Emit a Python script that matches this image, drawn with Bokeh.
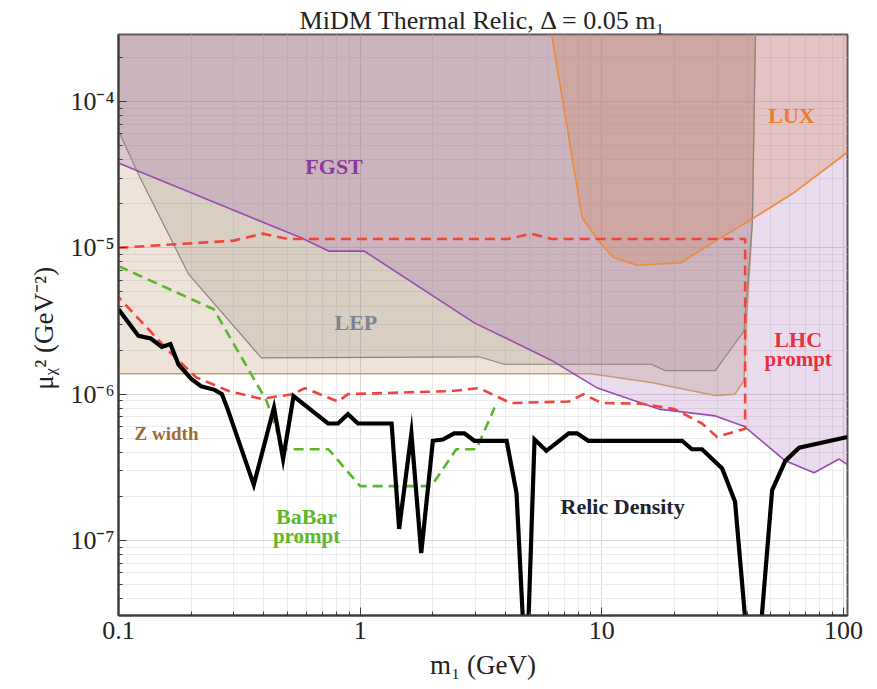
from bokeh.plotting import figure
from bokeh.models import FixedTicker, CustomJSTickFormatter, Label
from bokeh.embed import file_html
from bokeh.resources import INLINE

# ---------------- data ----------------
X_TICKS = [0.1, 1, 10, 100]
X_TICK_LABELS = ["0.1", "1", "10", "100"]
Y_TICKS = [1e-7, 1e-6, 1e-5, 1e-4]
Y_TICK_LABELS = ["10⁻⁷", "10⁻⁶", "10⁻⁵", "10⁻⁴"]

# Relic density curve (thick black)
relic_m = [0.1, 0.121, 0.136, 0.151, 0.164, 0.177, 0.2, 0.22, 0.25, 0.268, 0.283,
           0.363, 0.44, 0.48, 0.53, 0.736, 0.81, 0.89, 0.98, 1.35, 1.45, 1.63, 1.79,
           2.0, 2.2, 2.45, 2.7, 2.97, 4.04, 4.44, 4.87, 5.27, 5.9, 7.3, 7.9, 8.8,
           21.5, 23.6, 26, 31.5, 35.6, 41.5, 43.5, 50.7, 57.5, 65.6, 104]
relic_mu2 = [3.8e-6, 2.5e-6, 2.4e-6, 2.1e-6, 2.2e-6, 1.6e-6, 1.27e-6, 1.13e-6, 1.07e-6, 1.0e-6, 7.9e-7,
             2.4e-7, 8.1e-7, 3.6e-7, 9.7e-7, 6.3e-7, 6.3e-7, 7.3e-7, 6.3e-7, 6.3e-7, 1.2e-7, 5.4e-7, 8.2e-8,
             4.8e-7, 4.9e-7, 5.4e-7, 5.4e-7, 4.8e-7, 4.8e-7, 2.1e-7, 1e-8, 4.9e-7, 4.1e-7, 5.4e-7, 5.4e-7, 4.8e-7,
             4.8e-7, 4.2e-7, 4.2e-7, 3.1e-7, 1.85e-7, 1e-8, 1e-8, 2.2e-7, 3.5e-7, 4.3e-7, 5.1e-7]

# FGST bound (purple), excluded above
fgst_m = [0.1, 0.57, 0.74, 1.04, 2.97, 6.2, 9.6, 17.2, 29.5, 39, 57.5, 75.6, 96, 104]
fgst_mu2 = [3.8e-5, 1.17e-5, 9.5e-6, 9.5e-6, 3.07e-6, 1.7e-6, 1.1e-6, 7.9e-7, 7.1e-7,
            6.0e-7, 3.5e-7, 2.9e-7, 3.6e-7, 3.3e-7]

# LEP bound (gray), excluded above
lep_m = [0.1, 0.123, 0.195, 0.39, 3.1, 3.95, 16, 18.3, 29.5, 38.8, 42, 43.8]
lep_mu2 = [6.3e-5, 3.0e-5, 6.6e-6, 1.77e-6, 1.8e-6, 1.6e-6, 1.6e-6, 1.45e-6, 1.45e-6, 2.7e-6, 1.5e-5, 1e-3]

# Z width bound (brown), excluded above
z_m = [0.1, 9.0, 16, 29.5, 35.6, 38.8, 39.5, 42, 43.8]
z_mu2 = [1.38e-6, 1.38e-6, 1.2e-6, 9.8e-7, 1.0e-6, 1.24e-6, 2.7e-6, 1.5e-5, 1e-3]

# LUX bound (orange), excluded above
lux_m = [6.08, 8.3, 9.9, 11.2, 14.0, 21.2, 30.8, 41.0, 61.7, 104]
lux_mu2 = [3.5e-4, 1.6e-5, 1.07e-5, 8.6e-6, 7.6e-6, 7.9e-6, 1.16e-5, 1.54e-5, 2.35e-5, 4.5e-5]

# LHC prompt (red dashed, closed contour)
lhc_m = [0.1, 0.3, 0.396, 0.5, 4.1, 5.1, 6.2, 39.2,
         39.2, 30, 26, 20, 14.6, 10, 8.4, 7.3, 4.2, 3.1, 2.4, 0.89, 0.81, 0.59, 0.53,
         0.39, 0.286, 0.21, 0.16, 0.1]
lhc_mu2 = [1.0e-5, 1.12e-5, 1.25e-5, 1.15e-5, 1.15e-5, 1.25e-5, 1.15e-5, 1.15e-5,
           5.8e-7, 5.1e-7, 6.3e-7, 7.9e-7, 8.6e-7, 8.7e-7, 1.0e-6, 8.9e-7, 8.7e-7, 1.1e-6, 1.05e-6,
           1.0e-6, 8.9e-7, 1.1e-6, 1.0e-6, 9.3e-7, 1.05e-6, 1.3e-6, 2.0e-6, 4.6e-6]

# BaBar prompt (green dashed)
babar_m = [0.1, 0.248, 0.41, 0.48, 0.74, 1.0, 1.97, 2.5, 3.03, 3.6]
babar_mu2 = [7.5e-6, 3.8e-6, 9.0e-7, 4.2e-7, 4.2e-7, 2.35e-7, 2.35e-7, 4.2e-7, 4.2e-7, 8.1e-7]

X_RANGE = (0.1, 104)
Y_RANGE = (3.07e-8, 2.87e-4)
Y_TOP = 1e-3

SERIF = "Liberation Serif"

p = figure(width=877, height=689, x_axis_type="log", y_axis_type="log",
           x_range=X_RANGE, y_range=Y_RANGE, output_backend="svg", toolbar_location=None,
           min_border_left=118, min_border_right=30, min_border_top=34, min_border_bottom=74,
           background_fill_color="white", border_fill_color="white")

p.title.text = "MiDM Thermal Relic, Δ = 0.05 m₁"
p.title.align = "center"
p.title.text_font = SERIF
p.title.text_font_size = "26px"
p.title.text_font_style = "normal"
p.title.text_color = "#222222"
p.title.standoff = 0
p.title.offset = 0

# ---------------- regions ----------------
p.patch(z_m + [z_m[0]], z_mu2 + [Y_TOP], fill_color="#a5733c", fill_alpha=0.2, line_color=None)
p.patch(lep_m + [lep_m[0]], lep_mu2 + [Y_TOP], fill_color="#8c7d6e", fill_alpha=0.2, line_color=None)
p.varea(x=fgst_m, y1=fgst_mu2, y2=[Y_TOP] * len(fgst_m), fill_color="#9650aa", fill_alpha=0.2)
p.varea(x=lux_m, y1=lux_mu2, y2=[Y_TOP] * len(lux_m), fill_color="#d78c64", fill_alpha=0.3)

# ---------------- boundary lines ----------------
p.line(z_m, z_mu2, line_color="#c49a74", line_width=1.5)
p.line(lep_m, lep_mu2, line_color="#8c8680", line_width=1.2)
p.line(fgst_m, fgst_mu2, line_color="#9a4bb0", line_width=1.6)
p.line(lux_m, lux_mu2, line_color="#f08a3a", line_width=1.6)
p.line(lhc_m, lhc_mu2, line_color="#f0443c", line_width=2.6, line_dash="10 6")
p.line(babar_m, babar_mu2, line_color="#58b82c", line_width=2.6, line_dash="10 6")
p.line(relic_m, relic_mu2, line_color="black", line_width=4.2, line_join="miter")

# ---------------- region labels ----------------
def lab(x, y, text, color, size="22px"):
    p.add_layout(Label(x=x, y=y, text=text, text_align="center", text_baseline="middle",
                       text_font=SERIF, text_font_style="bold", text_font_size=size,
                       text_color=color))

lab(0.78, 3.6e-5, "FGST", "#8a3a9e")
lab(0.96, 3.07e-6, "LEP", "#7a8590")
lab(61, 8.0e-5, "LUX", "#ec7d2a")
lab(65, 2.35e-6, "LHC", "#e8303a")
lab(65, 1.75e-6, "prompt", "#e8303a", "21px")
lab(0.158, 5.4e-7, "Z width", "#a4692e", "19px")
lab(0.60, 1.46e-7, "BaBar", "#5cb82a")
lab(0.60, 1.07e-7, "prompt", "#5cb82a", "21px")
lab(12.2, 1.7e-7, "Relic Density", "#1c2333")

# ---------------- axes ----------------
p.xaxis.ticker = FixedTicker(ticks=X_TICKS,
                             minor_ticks=[k * 10.0 ** d for d in range(-1, 3) for k in range(2, 10)])
p.yaxis.ticker = FixedTicker(ticks=Y_TICKS,
                             minor_ticks=[k * 10.0 ** d for d in range(-8, -3) for k in range(2, 10)])
fmt_code = """
let best = 0, bd = Infinity;
for (let i = 0; i < tv.length; i++) {
  const d = Math.abs(Math.log10(tick) - Math.log10(tv[i]));
  if (d < bd) { bd = d; best = i; }
}
return tl[best];
"""
p.xaxis.formatter = CustomJSTickFormatter(args=dict(tv=X_TICKS, tl=X_TICK_LABELS), code=fmt_code)
p.yaxis.formatter = CustomJSTickFormatter(args=dict(tv=Y_TICKS, tl=Y_TICK_LABELS), code=fmt_code)

for ax in (p.xaxis, p.yaxis):
    ax.major_tick_in = 8
    ax.major_tick_out = 0
    ax.minor_tick_in = 4
    ax.minor_tick_out = 0
    ax.axis_line_color = "#3a3a3a"
    ax.axis_line_width = 2
    ax.major_tick_line_color = "#3a3a3a"
    ax.minor_tick_line_color = "#3a3a3a"
    ax.major_label_text_font = SERIF
    ax.major_label_text_font_size = "26px"
    ax.major_label_text_color = "#222222"
    ax.axis_label_text_font = SERIF
    ax.axis_label_text_font_size = "27px"
    ax.axis_label_text_font_style = "normal"
    ax.axis_label_text_color = "#222222"

p.xaxis.axis_label = "m₁ (GeV)"
p.yaxis.axis_label = "μᵪ²  (GeV⁻²)"
p.xaxis.major_label_standoff = 6
p.yaxis.major_label_standoff = 4
p.xaxis.axis_label_standoff = 8
p.yaxis.axis_label_standoff = 8

p.xgrid.grid_line_color = "#d9d9d9"
p.ygrid.grid_line_color = "#d9d9d9"
p.xgrid.minor_grid_line_color = "#ebebeb"
p.ygrid.minor_grid_line_color = "#ebebeb"

p.outline_line_color = "#555555"
p.outline_line_width = 2

open("out.html", "w").write(file_html(p, INLINE))
